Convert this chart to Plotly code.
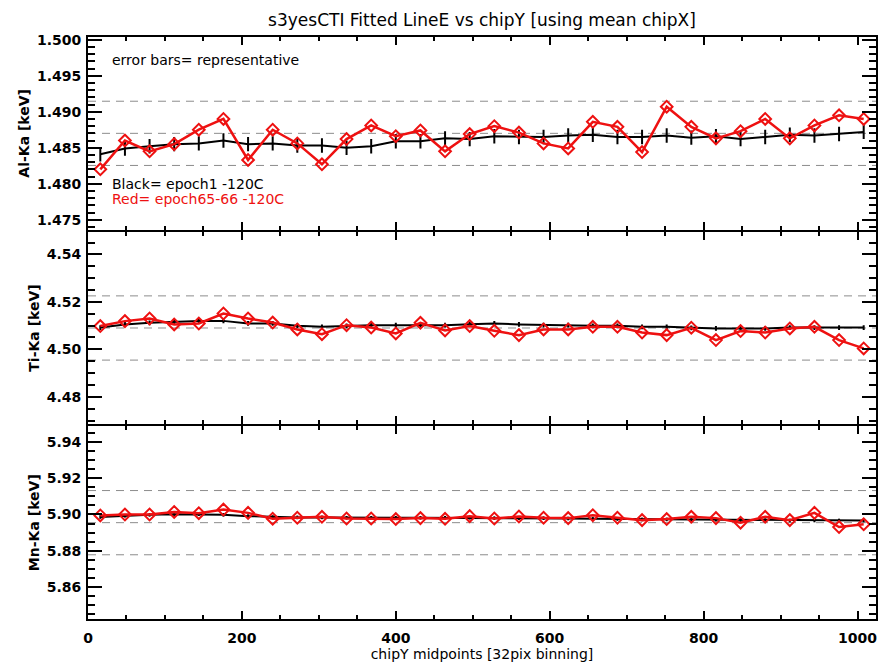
import plotly.graph_objects as go
from plotly.subplots import make_subplots

# ---- data ----
chipy = [16 + 32 * k for k in range(32)]

al_black = [1.4841, 1.4849, 1.4852, 1.4855, 1.4856, 1.4860, 1.4855, 1.4856,
            1.4853, 1.4853, 1.4850, 1.4852, 1.4859, 1.4859, 1.4863, 1.4862,
            1.4866, 1.4865, 1.4865, 1.4867, 1.4868, 1.4865, 1.4865, 1.4867,
            1.4864, 1.4866, 1.4862, 1.4865, 1.4868, 1.4867, 1.4869, 1.4872]
al_red = [1.4820, 1.4860, 1.4845, 1.4855, 1.4875, 1.4890, 1.4833, 1.4875,
          1.4856, 1.4827, 1.4862, 1.4881, 1.4866, 1.4874, 1.4845, 1.4869,
          1.4880, 1.4871, 1.4856, 1.4849, 1.4886, 1.4879, 1.4844, 1.4907,
          1.4879, 1.4863, 1.4873, 1.4890, 1.4863, 1.4881, 1.4895, 1.4890]

ti_black = [4.5092, 4.5105, 4.5112, 4.5117, 4.5120, 4.5120, 4.5109, 4.5109,
            4.5099, 4.5095, 4.5099, 4.5102, 4.5102, 4.5102, 4.5102, 4.5106,
            4.5109, 4.5105, 4.5102, 4.5102, 4.5099, 4.5099, 4.5095, 4.5095,
            4.5091, 4.5088, 4.5088, 4.5088, 4.5092, 4.5092, 4.5092, 4.5092]
ti_red = [4.5098, 4.5119, 4.5130, 4.5105, 4.5109, 4.5151, 4.5130, 4.5113,
          4.5084, 4.5064, 4.5102, 4.5092, 4.5067, 4.5112, 4.5080, 4.5098,
          4.5078, 4.5060, 4.5084, 4.5084, 4.5095, 4.5095, 4.5071, 4.5060,
          4.5091, 4.5039, 4.5077, 4.5071, 4.5088, 4.5095, 4.5039, 4.5004]

mn_black = [5.8986, 5.8993, 5.8998, 5.9002, 5.9002, 5.8998, 5.8991, 5.8986,
            5.8984, 5.8984, 5.8982, 5.8982, 5.8982, 5.8982, 5.8982, 5.8982,
            5.8980, 5.8980, 5.8980, 5.8978, 5.8976, 5.8975, 5.8973, 5.8973,
            5.8971, 5.8971, 5.8969, 5.8969, 5.8967, 5.8967, 5.8967, 5.8967]
mn_red = [5.8995, 5.9000, 5.9000, 5.9014, 5.9007, 5.9027, 5.9009, 5.8977,
          5.8982, 5.8987, 5.8978, 5.8978, 5.8975, 5.8980, 5.8976, 5.8991,
          5.8978, 5.8989, 5.8982, 5.8980, 5.8996, 5.8982, 5.8969, 5.8975,
          5.8987, 5.8980, 5.8955, 5.8987, 5.8969, 5.9009, 5.8931, 5.8946]

err_rep = 0.001  # representative error bar (keV)

lines = ["Al-Ka", "Ti-Ka", "Mn-Ka"]
centers = [1.4870, 4.5090, 5.8955]
ytick_major = [0.005, 0.02, 0.02]
ytick_minor = [0.001, 0.005, 0.005]
ytick_fmt = [".3f", ".2f", ".2f"]
blacks = [al_black, ti_black, mn_black]
reds = [al_red, ti_red, mn_red]

FONT = "DejaVu Sans"
RED = "#ee1111"

# page body has an 8px margin, so the figure is 8px smaller than the window
W, H = 885, 658

fig = make_subplots(rows=3, cols=1, shared_xaxes=True, vertical_spacing=2 / 582)

for i in range(3):
    r = i + 1
    c = centers[i]
    # reference dashed lines
    for f in (1 - 0.003, 1.0, 1 + 0.003):
        fig.add_trace(go.Scatter(x=[0, 1024], y=[c * f, c * f], mode="lines",
                                 line=dict(color="#8c8c8c", width=1, dash="8px,6px"),
                                 showlegend=False, hoverinfo="skip"), row=r, col=1)
    fig.add_trace(go.Scatter(x=chipy, y=blacks[i], mode="lines",
                             line=dict(color="black", width=2),
                             error_y=dict(type="constant", value=err_rep, color="black",
                                          thickness=2, width=0),
                             showlegend=False), row=r, col=1)
    fig.add_trace(go.Scatter(x=chipy, y=reds[i], mode="lines+markers",
                             line=dict(color=RED, width=2.5),
                             marker=dict(symbol="diamond-open", size=9, color=RED,
                                         line=dict(width=2, color=RED)),
                             showlegend=False), row=r, col=1)
    fig.update_yaxes(row=r, col=1, automargin=False,
                     range=[c * (1 - 0.009), c * (1 + 0.009)],
                     dtick=ytick_major[i], tick0=0, tickformat=ytick_fmt[i],
                     ticks="inside", ticklen=14, tickwidth=2, tickcolor="black",
                     minor=dict(dtick=ytick_minor[i], tick0=0, ticks="inside", ticklen=7,
                                tickwidth=2, tickcolor="black"),
                     showline=True, linewidth=2, linecolor="black", mirror="allticks",
                     showgrid=False, zeroline=False, ticklabelstandoff=2,
                     tickfont=dict(family=FONT, size=14, color="black", weight="bold"),
                     title=dict(text=f"{lines[i]} [keV]", standoff=4,
                                font=dict(family=FONT, size=14, color="black",
                                          weight="bold")))
    fig.update_xaxes(row=r, col=1, automargin=False,
                     range=[0, 1024], dtick=200, tick0=0,
                     ticks="inside", ticklen=8, tickwidth=2, tickcolor="black",
                     minor=dict(dtick=50, tick0=0, ticks="inside", ticklen=4,
                                tickwidth=2, tickcolor="black"),
                     showline=True, linewidth=2, linecolor="black", mirror="allticks",
                     showgrid=False, zeroline=False, ticklabelstandoff=5,
                     tickfont=dict(family=FONT, size=14, color="black", weight="bold"))

fig.update_xaxes(row=3, col=1,
                 title=dict(text="chipY midpoints [32pix binning]", standoff=1,
                            font=dict(family=FONT, size=14, color="black")))

fig.add_annotation(xref="x domain", yref="y domain", x=0.028, y=0.88,
                   text="error bars= representative", showarrow=False,
                   xanchor="left", yanchor="middle",
                   font=dict(family=FONT, size=14, color="black"))
fig.add_annotation(xref="x domain", yref="y domain", x=0.028, y=0.236,
                   text="Black= epoch1 -120C", showarrow=False,
                   xanchor="left", yanchor="middle",
                   font=dict(family=FONT, size=14, color="black"))
fig.add_annotation(xref="x domain", yref="y domain", x=0.028, y=0.158,
                   text="Red= epoch65-66 -120C", showarrow=False,
                   xanchor="left", yanchor="middle",
                   font=dict(family=FONT, size=14, color=RED))

fig.update_layout(
    width=W, height=H,
    margin=dict(l=80, r=17, t=29, b=47, autoexpand=False),
    paper_bgcolor="white", plot_bgcolor="white",
    title=dict(text="s3yesCTI Fitted LineE vs chipY [using mean chipX]",
               x=0.5, xref="paper", xanchor="center", y=1 - 12 / H, yanchor="middle",
               yref="container",
               font=dict(family=FONT, size=17, color="black")),
    showlegend=False,
)

fig.write_html("out.html")
